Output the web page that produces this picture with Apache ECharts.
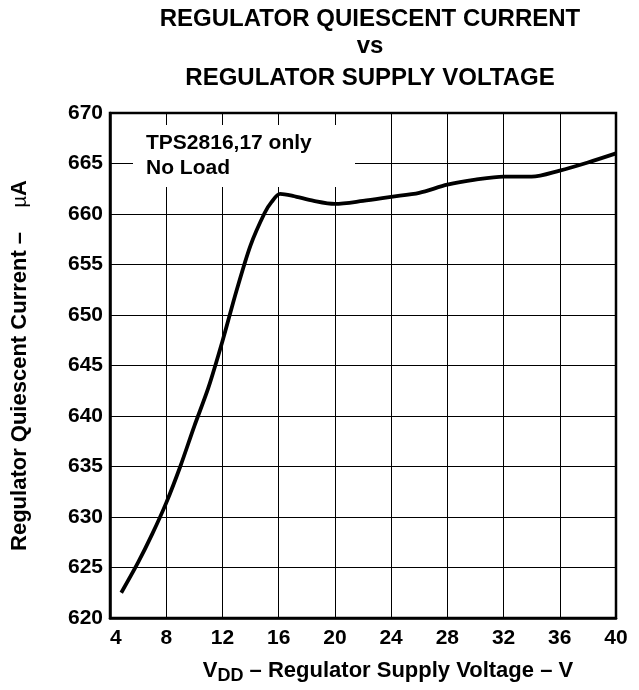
<!DOCTYPE html>
<html>
<head>
<meta charset="utf-8">
<script src="https://cdn.jsdelivr.net/npm/echarts@6/dist/echarts.min.js"></script>
<style>
html, body { margin: 0; padding: 0; background: #fff; }
#main { width: 639px; height: 690px; }
</style>
</head>
<body>
<div id="main"></div>
<script>
// VDD (V) vs regulator quiescent current (uA)
var vdd = [4.8, 6.0, 7.0, 8.0, 9.0, 10.0, 11.0, 12.0, 13.0, 14.0, 15.0, 15.5, 16.1, 17.0, 18.5, 20.0, 22.0, 24.0, 26.0, 28.0, 30.0, 32.0, 34.0, 36.0, 38.0, 40.0];
var current = [622.5, 625.5, 628.3, 631.4, 635.0, 639.0, 642.8, 647.4, 652.4, 656.9, 660.1, 661.2, 662.0, 661.8, 661.3, 661.0, 661.3, 661.7, 662.1, 662.9, 663.4, 663.7, 663.7, 664.3, 665.1, 666.0];
var titleLines = ['REGULATOR QUIESCENT CURRENT', 'vs', 'REGULATOR SUPPLY VOLTAGE'];
var noteLines = ['TPS2816,17 only', 'No Load'];

var FONT = 'Liberation Sans, Arial, Helvetica, sans-serif';
var myChart = echarts.init(document.getElementById('main'));

var points = [];
for (var i = 0; i < vdd.length; i++) {
	points.push([vdd[i], current[i]]);
}

var titleStyle = {fontFamily: FONT, fontSize: 24, fontWeight: 'bold', color: '#000'};

var option = {
	backgroundColor: '#fff',
	animation: false,
	title: [
		{text: titleLines[0], left: 365, top: 2, textAlign: 'center', textStyle: titleStyle},
		{text: titleLines[1], left: 365, top: 29, textAlign: 'center', textStyle: titleStyle},
		{text: titleLines[2], left: 365, top: 61, textAlign: 'center', textStyle: titleStyle}
	],
	grid: {
		left: 110,
		top: 113,
		right: 23,
		bottom: 71,
		show: true,
		borderColor: '#000',
		borderWidth: 2.5
	},
	xAxis: {
		type: 'value',
		min: 4,
		max: 40,
		interval: 4,
		name: '{v|V}{sub|DD}{v| – Regulator Supply Voltage – V}',
		nameLocation: 'middle',
		nameGap: 39,
		nameTextStyle: {
			padding: [0, 0, 0, 50],
			rich: {
				v: {fontFamily: FONT, fontSize: 22, fontWeight: 'bold', color: '#000'},
				sub: {fontFamily: FONT, fontSize: 18, fontWeight: 'bold', color: '#000', padding: [10, 0, 0, 0]}
			}
		},
		axisLine: {show: true, lineStyle: {color: '#000', width: 2.5}},
		axisTick: {show: false},
		axisLabel: {margin: 10, alignMinLabel: 'left', fontFamily: FONT, fontSize: 21, fontWeight: 'bold', color: '#000'},
		splitLine: {show: true, lineStyle: {color: '#000', width: 1}}
	},
	yAxis: {
		type: 'value',
		min: 620,
		max: 670,
		interval: 5,
		name: '{b|Regulator Quiescent Current –    }{mu|µ}{b|A}',
		nameLocation: 'middle',
		nameGap: 79,
		nameTextStyle: {
			rich: {
				b: {fontFamily: FONT, fontSize: 22, fontWeight: 'bold', color: '#000'},
				mu: {fontFamily: FONT, fontSize: 20, fontWeight: 'normal', color: '#000'}
			}
		},
		axisLine: {show: true, lineStyle: {color: '#000', width: 2.5}},
		axisTick: {show: false},
		axisLabel: {margin: 7, fontFamily: FONT, fontSize: 21, fontWeight: 'bold', color: '#000'},
		splitLine: {show: true, lineStyle: {color: '#000', width: 1}}
	},
	graphic: [
		{type: 'rect', left: 133, top: 125, z: 10,
			shape: {width: 222, height: 62}, style: {fill: '#fff'}},
		{type: 'text', left: 146, top: 131, z: 11,
			style: {text: noteLines.join('\n'), fill: '#000', lineHeight: 25,
				font: 'bold 21px ' + FONT}}
	],
	series: [
		{
			name: 'Quiescent current',
			type: 'line',
			data: points,
			smooth: 0.3,
			showSymbol: false,
			lineStyle: {color: '#000', width: 3.8}
		}
	]
};
myChart.setOption(option);
</script>
</body>
</html>
